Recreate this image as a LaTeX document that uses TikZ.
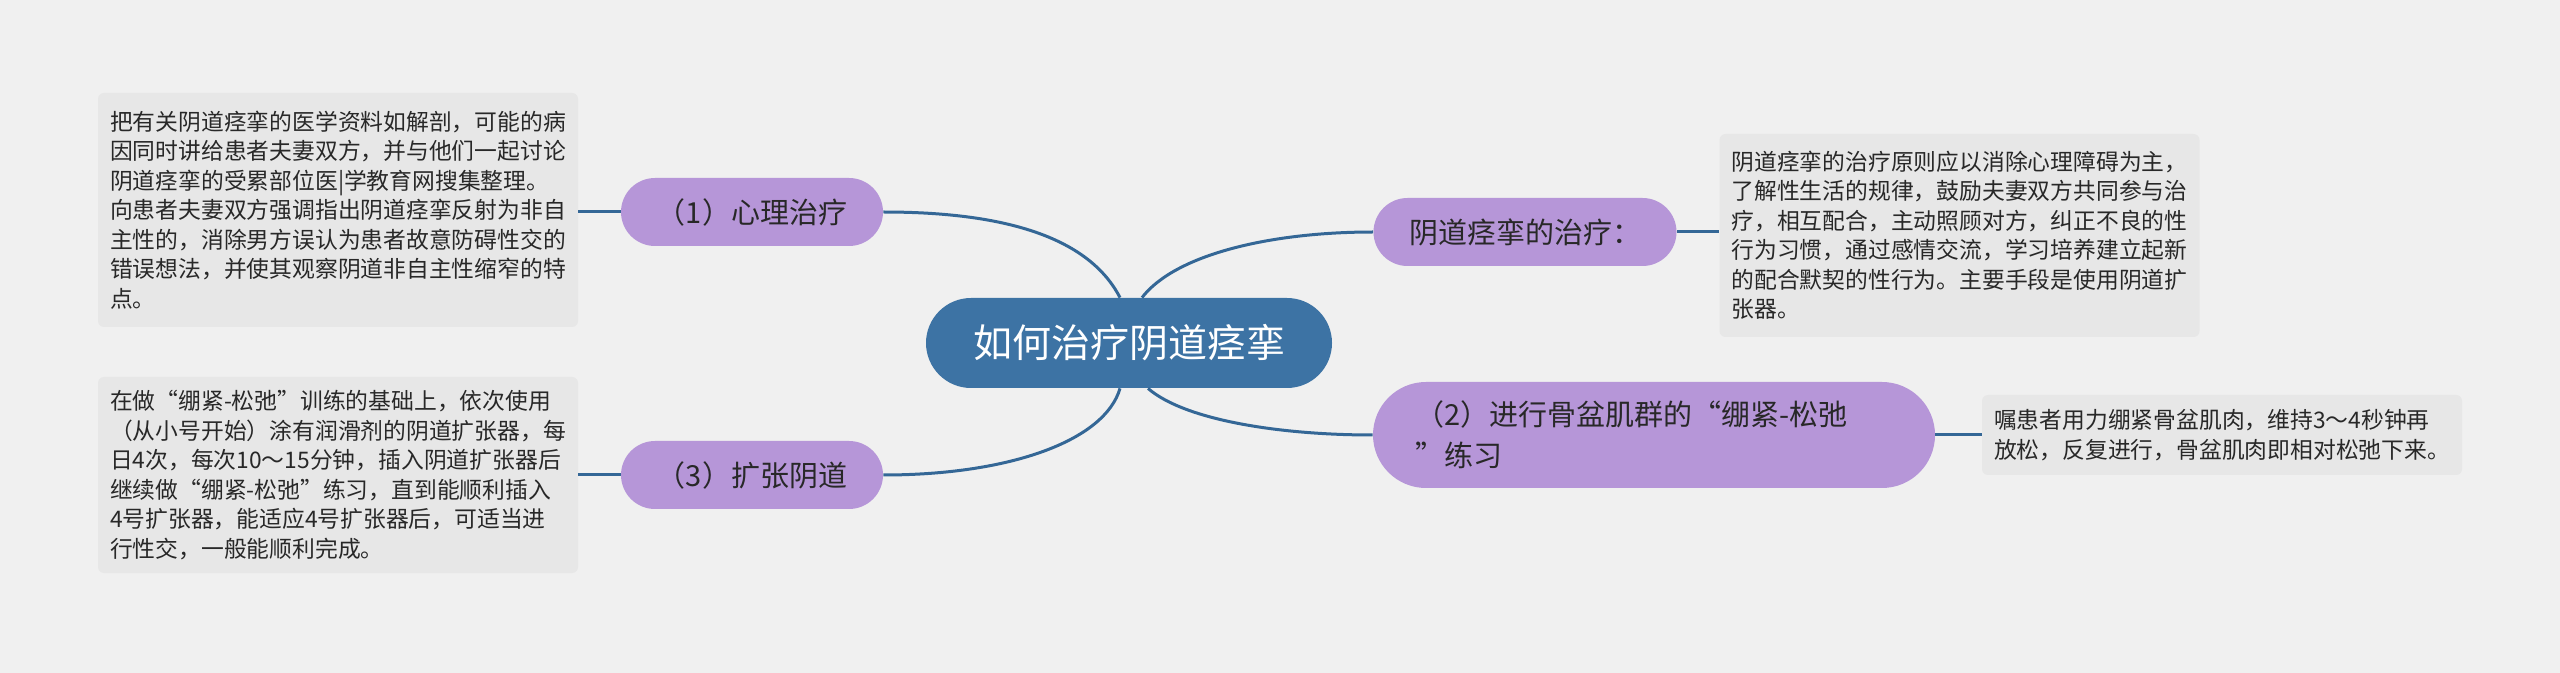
\documentclass[tikz,border=0pt]{standalone}
\usepackage{fontspec}
\setmainfont{Noto Sans CJK SC}
\usepackage{xcolor}
\usepackage{tikz}
\usetikzlibrary{positioning, calc}
\definecolor{pagegray}{RGB}{240, 240, 240}
\definecolor{notegray}{RGB}{231, 231, 231}
\definecolor{rootblue}{RGB}{61, 115, 164}
\definecolor{branchpurple}{RGB}{182, 150, 216}
\definecolor{linkblue}{RGB}{52, 103, 150}
\definecolor{darktext}{RGB}{40, 40, 40}

\begin{document}
\begin{tikzpicture}[x=0.5pt, y=-0.5pt,
    root/.style={fill=rootblue, rounded corners=22.5pt, minimum width=203pt, minimum height=45pt,
          text=white, font=\fontsize{19.5}{23}\selectfont},
    branch/.style={fill=branchpurple, rounded corners=17pt, minimum height=34pt, inner sep=0pt,
          text=darktext, font=\fontsize{14.5}{20.5}\selectfont},
    note/.style={fill=notegray, rounded corners=3pt, text width=228pt, inner xsep=6pt, align=left,
          text=darktext, font=\fontsize{11.4}{14.75}\selectfont},
    link/.style={draw=linkblue, line width=1.5pt}]

    \fill[pagegray] (0,0) rectangle (2560,673);

    \node[root] (root) at (1129,343) {如何治疗阴道痉挛};

    \node[branch, minimum width=131pt] (psych) at (752,212) {（1）心理治疗};
    \node[branch, minimum width=151.5pt] (treat) at (1525,232) {阴道痉挛的治疗：};
    \node[branch, minimum width=281pt, minimum height=53pt, rounded corners=26.5pt,
          text width=239pt, align=left] (pelvic) at (1654,435) {（2）进行骨盆肌群的“绷紧-松弛\\”练习};
    \node[branch, minimum width=131pt] (dilate) at (752,475) {（3）扩张阴道};

    \node[note, minimum height=117pt] (psychnote) at (338,210) {
        把有关阴道痉挛的医学资料如解剖，可能的病\\
        因同时讲给患者夫妻双方，并与他们一起讨论\\
        阴道痉挛的受累部位医|学教育网搜集整理。\\
        向患者夫妻双方强调指出阴道痉挛反射为非自\\
        主性的，消除男方误认为患者故意防碍性交的\\
        错误想法，并使其观察阴道非自主性缩窄的特\\
        点。};
    \node[note, minimum height=101.5pt] (treatnote) at (1959.5,235.5) {
        阴道痉挛的治疗原则应以消除心理障碍为主，\\
        了解性生活的规律，鼓励夫妻双方共同参与治\\
        疗，相互配合，主动照顾对方，纠正不良的性\\
        行为习惯，通过感情交流，学习培养建立起新\\
        的配合默契的性行为。主要手段是使用阴道扩\\
        张器。};
    \node[note, minimum height=40pt] (pelvicnote) at (2222,435) {
        嘱患者用力绷紧骨盆肌肉，维持3～4秒钟再\\
        放松，反复进行，骨盆肌肉即相对松弛下来。};
    \node[note, minimum height=98pt] (dilatenote) at (338,475) {
        在做“绷紧-松弛”训练的基础上，依次使用\\
        （从小号开始）涂有润滑剂的阴道扩张器，每\\
        日4次，每次10～15分钟，插入阴道扩张器后\\
        继续做“绷紧-松弛”练习，直到能顺利插入\\
        4号扩张器，能适应4号扩张器后，可适当进\\
        行性交，一般能顺利完成。};

    % root to branches
    \draw[link] ([xshift=-4.5pt]root.north) .. controls +(-30,-58) and +(127,0) .. (psych.east);
    \draw[link] ([xshift=6.5pt]root.north) .. controls +(33,-43) and +(-103,0) .. (treat.west);
    \draw[link] ([xshift=9.5pt]root.south) .. controls +(37,32) and +(-92,0) .. (pelvic.west);
    \draw[link] ([xshift=-4.5pt]root.south) .. controls +(-15,52) and +(127,0) .. (dilate.east);

    % branches to notes
    \draw[link] (psych.west) -- (psych.west -| psychnote.east);
    \draw[link] (treat.east) -- (treat.east -| treatnote.west);
    \draw[link] (pelvic.east) -- (pelvic.east -| pelvicnote.west);
    \draw[link] (dilate.west) -- (dilate.west -| dilatenote.east);
\end{tikzpicture}
\end{document}
